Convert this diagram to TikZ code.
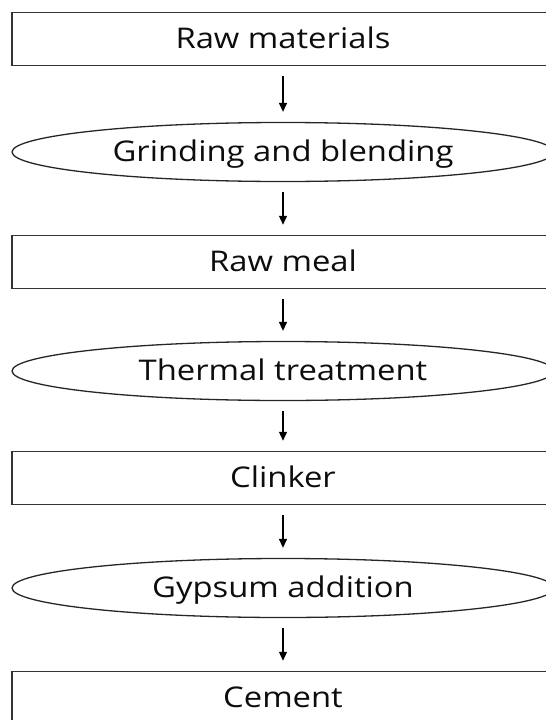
\documentclass[tikz,border=0pt]{standalone}
\usepackage{fontspec}
\setmainfont{Open Sans}[FakeStretch=1.15]
\usetikzlibrary{shapes.geometric,arrows.meta}

\tikzset{
  stage/.style={draw=black!80, line width=1.5pt, rectangle, minimum width=542pt, minimum height=53pt, inner sep=0pt},
  process/.style={draw=black!85, line width=1.3pt, ellipse, minimum width=542pt, minimum height=59pt, inner sep=0pt},
  every node/.style={font=\fontsize{28.5}{32}\selectfont, text=black!95, text height=24pt, text depth=5pt},
  flow/.style={-{Triangle[length=9pt,width=8pt]}, line width=1.3pt, shorten <=10pt, shorten >=10pt},
}

\begin{document}
\begin{tikzpicture}[x=1pt,y=-1pt]
  \useasboundingbox (0,0) rectangle (546,720);
  \clip (0,0) rectangle (546,720);

  % Materials (boxes)
  \node[stage] (raw) at (283,39) {Raw materials};
  \node[stage] (meal) at (283,262) {Raw meal};
  \node[stage] (clinker) at (283,478) {Clinker};
  \node[stage] (cement) at (283,698) {Cement};

  % Processes (ellipses)
  \node[process] (grind) at (283,152) {Grinding and blending};
  \node[process] (thermal) at (283,371) {Thermal treatment};
  \node[process] (gypsum) at (283,588) {Gypsum addition};

  % Flow from top to bottom
  \foreach \a/\b in {raw/grind, grind/meal, meal/thermal, thermal/clinker, clinker/gypsum, gypsum/cement}
    \draw[flow] (\a) -- (\b);
\end{tikzpicture}
\end{document}
